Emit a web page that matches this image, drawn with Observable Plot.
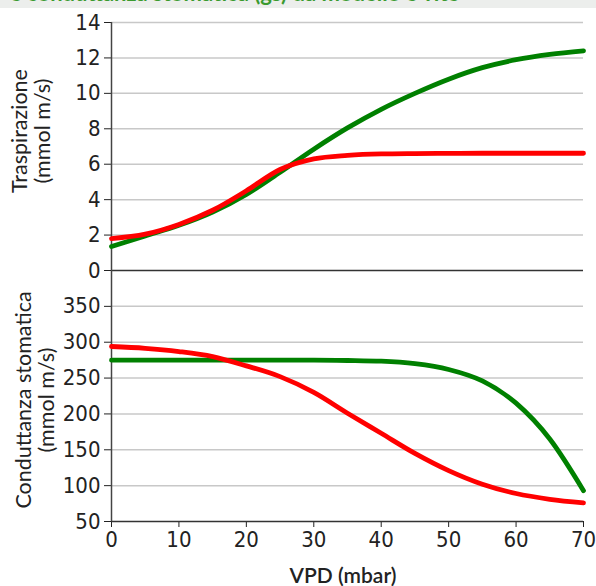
<!DOCTYPE html>
<html>
<head>
<meta charset="utf-8">
<script src="https://cdn.jsdelivr.net/npm/d3@7"></script>
<script src="https://cdn.jsdelivr.net/npm/@observablehq/plot@0.6"></script>
<style>
  html, body { margin: 0; padding: 0; background: #fff; }
  #wrap { position: relative; width: 596px; height: 586px; overflow: hidden; background: #fff; font-family: Lato, "Open Sans", sans-serif; color: #222; }
  .band { position: absolute; left: 0; top: 0; width: 596px; height: 8px; background: #eceeec; overflow: hidden; }
  .band span { position: absolute; left: 10px; top: -21px; font-size: 22px; font-weight: 700; color: #3a9a2e; white-space: nowrap; }
  .panel { position: absolute; left: 0; }
  .ytitle { position: absolute; transform: translate(-50%, -50%) rotate(-90deg); white-space: nowrap; text-align: center; font-size: 21.5px; line-height: 23px; }
  .xtitle { position: absolute; transform: translate(-50%, -50%); white-space: nowrap; font-size: 21px; font-weight: 600; }
</style>
</head>
<body>
<div id="wrap">
  <div class="band"><span>e conduttanza stomatica (gs) da modello e vite</span></div>
  <div id="topPanel" class="panel" style="top:0px"></div>
  <div id="botPanel" class="panel" style="top:270px"></div>
  <div class="ytitle" style="left:31px; top:131px">Traspirazione<br>(mmol m/s)</div>
  <div class="ytitle" style="left:35px; top:400px">Conduttanza stomatica<br>(mmol m/s)</div>
  <div class="xtitle" style="left:343px; top:574px">VPD (mbar)</div>
</div>
<script>
// VPD (mbar) sampling positions
const vpd = [0, 5, 10, 15, 20, 25, 30, 35, 40, 45, 50, 55, 60, 65, 70];
// Traspirazione (mmol m/s)
const traspGreen = [1.35, 1.95, 2.55, 3.3, 4.3, 5.55, 6.85, 8.05, 9.1, 10.0, 10.8, 11.45, 11.9, 12.2, 12.4];
const traspRed   = [1.8, 2.05, 2.6, 3.4, 4.5, 5.7, 6.3, 6.5, 6.58, 6.6, 6.61, 6.62, 6.62, 6.62, 6.62];
// Conduttanza stomatica (mmol m/s)
const condGreen = [275, 275, 275, 275, 275, 275, 275, 274.5, 273.5, 270, 262, 246, 215, 165, 93];
const condRed   = [294, 291.5, 287, 280, 267, 252, 230, 201, 173, 145, 121, 102, 89, 81, 76];
// tick labels
const traspTicks = [0, 2, 4, 6, 8, 10, 12, 14];
const condTicks = [50, 100, 150, 200, 250, 300, 350];
const vpdTicks = [0, 10, 20, 30, 40, 50, 60, 70];

const GREEN = "#3c9c2f";
const RED = "#c4141c";
const font = '"Liberation Sans Narrow", "DejaVu Sans Condensed", Lato, sans-serif';

const traspData = vpd.flatMap((v, i) => [
  {vpd: v, val: traspGreen[i], s: "green"},
  {vpd: v, val: traspRed[i], s: "red"}
]);
const condData = vpd.flatMap((v, i) => [
  {vpd: v, val: condGreen[i], s: "green"},
  {vpd: v, val: condRed[i], s: "red"}
]);
const colorScale = {domain: ["green", "red"], range: [GREEN, RED]};

const topPlot = Plot.plot({
  width: 596, height: 272,
  marginTop: 22, marginBottom: 2, marginLeft: 111, marginRight: 13,
  x: {domain: [0, 70], axis: null},
  y: {domain: [0, 14], ticks: traspTicks, tickSize: 7, tickPadding: 4, label: null},
  color: colorScale,
  style: {fontFamily: font, fontSize: "22px", color: "#222", background: "transparent", overflow: "visible"},
  marks: [
    Plot.ruleY(traspTicks.filter(d => d > 0), {stroke: "#c8c8c8", strokeWidth: 1.5}),
    Plot.ruleY([0], {stroke: "#333", strokeWidth: 1.5}),
    Plot.ruleX([0], {stroke: "#444", strokeWidth: 1.5}),
    Plot.line(traspData, {x: "vpd", y: "val", z: "s", stroke: "s", strokeWidth: 4.8, curve: "monotone-x"})
  ]
});
document.getElementById("topPanel").appendChild(topPlot);

const botPlot = Plot.plot({
  width: 596, height: 316,
  marginTop: 0, marginBottom: 65, marginLeft: 111, marginRight: 13,
  x: {domain: [0, 70], ticks: vpdTicks, tickSize: 6, tickPadding: 4, label: null},
  y: {domain: [50, 400], ticks: condTicks, tickSize: 7, tickPadding: 4, label: null},
  color: colorScale,
  style: {fontFamily: font, fontSize: "22px", color: "#222", background: "transparent", overflow: "visible"},
  marks: [
    Plot.ruleY(condTicks.filter(d => d > 50), {stroke: "#c8c8c8", strokeWidth: 1.5}),
    Plot.ruleY([50], {stroke: "#333", strokeWidth: 1.5}),
    Plot.ruleX([0], {stroke: "#444", strokeWidth: 1.5}),
    Plot.line(condData, {x: "vpd", y: "val", z: "s", stroke: "s", strokeWidth: 4.8, curve: "monotone-x"})
  ]
});
document.getElementById("botPanel").appendChild(botPlot);
</script>
</body>
</html>
